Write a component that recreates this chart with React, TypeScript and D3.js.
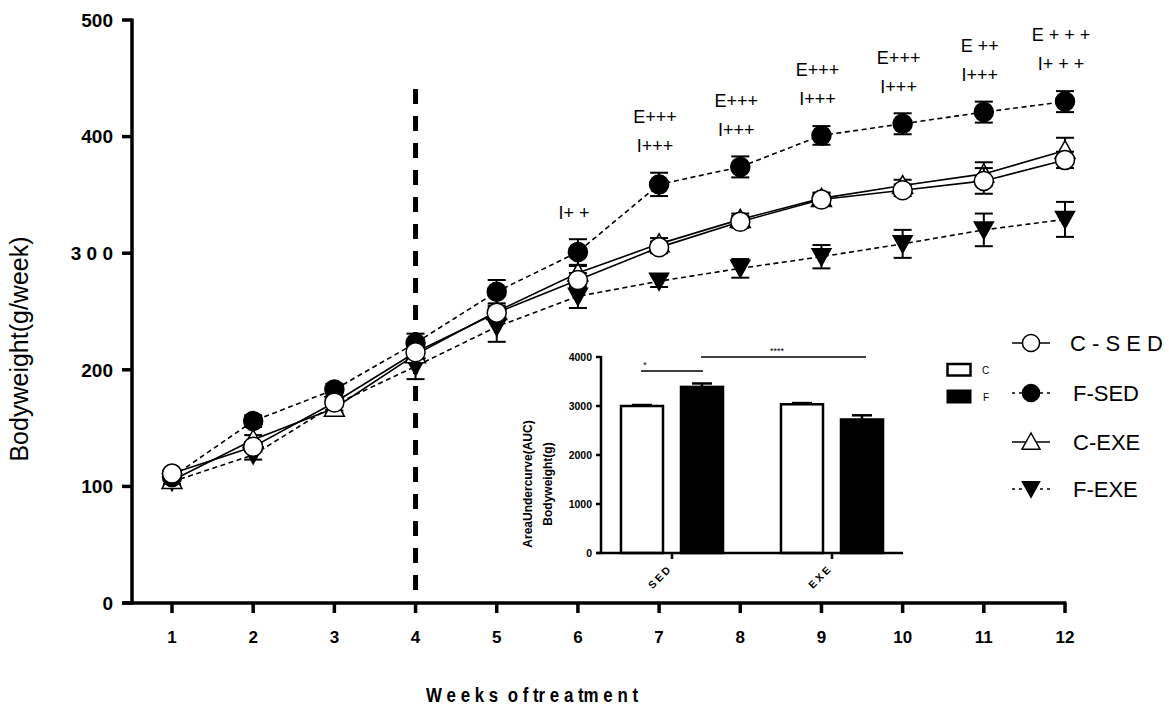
import React from "react";
import * as d3 from "d3";

const weeks = [1, 2, 3, 4, 5, 6, 7, 8, 9, 10, 11, 12];
const cSed = [111, 134, 172, 215, 249, 277, 305, 327, 346, 354, 362, 380];
const cSedErr = [3, 4, 4, 5, 5, 6, 5, 5, 5, 5, 11, 7];
const cExe = [105, 140, 167, 213, 250, 283, 308, 329, 347, 358, 368, 388];
const cExeErr = [3, 4, 4, 5, 5, 6, 5, 5, 5, 5, 10, 11];
const fSed = [108, 156, 183, 223, 267, 301, 359, 374, 401, 411, 421, 430];
const fSedErr = [3, 5, 5, 8, 10, 11, 10, 9, 8, 9, 9, 9];
const fExe = [104, 127, 170, 203, 237, 263, 276, 287, 297, 308, 320, 329];
const fExeErr = [3, 4, 5, 11, 13, 10, 5, 8, 10, 12, 14, 15];

const yTicks = [0, 100, 200, 300, 400, 500];
const yTickLabels = ["0", "100", "200", "3 0 0", "400", "500"];

const annoWeeks = [6, 7, 8, 9, 10, 11, 12];
const annoE = ["", "E+++", "E+++", "E+++", "E+++", "E ++", "E + + +"];
const annoI = ["I+ +", "I+++", "I+++", "I+++", "I+++", "I+++", "I+ + +"];

const aucGroups = ["SED", "EXE"];
const aucDiets = ["C", "F"];
const aucValues = [
  [3000, 3390],
  [3035, 2725],
];
const aucErr = [
  [20, 70],
  [25, 85],
];
const aucTicks = [0, 1000, 2000, 3000, 4000];

const FONT = "'Liberation Sans', Arial, sans-serif";

const x = d3.scaleLinear().domain([1, 12]).range([172, 1065]);
const y = d3.scaleLinear().domain([0, 500]).range([603, 20]);

const xi = d3.scaleBand().domain(aucGroups).range([592, 912]);
const xd = d3
  .scaleBand()
  .domain(aucDiets)
  .range([0, 160])
  .paddingInner(0.3)
  .paddingOuter(0.483);
const yi = d3.scaleLinear().domain([0, 4000]).range([553, 357]);

type Kind = "openCircle" | "filledCircle" | "upTri" | "downTri";

function Marker({ kind, cx, cy, s = 1 }: { kind: Kind; cx: number; cy: number; s?: number }) {
  if (kind === "openCircle")
    return <circle cx={cx} cy={cy} r={9.5 * s} fill="#fff" stroke="#000" strokeWidth={1.5} />;
  if (kind === "filledCircle")
    return <circle cx={cx} cy={cy} r={9.5 * s} fill="#000" stroke="#000" strokeWidth={1.5} />;
  if (kind === "upTri")
    return (
      <path
        d={`M${cx - 10 * s},${cy + 8 * s}L${cx + 10 * s},${cy + 8 * s}L${cx},${cy - 10 * s}Z`}
        fill="#fff"
        stroke="#000"
        strokeWidth={1.5}
      />
    );
  return (
    <path
      d={`M${cx - 9.5 * s},${cy - 8 * s}L${cx + 9.5 * s},${cy - 8 * s}L${cx},${cy + 9 * s}Z`}
      fill="#000"
      stroke="#000"
      strokeWidth={1.5}
    />
  );
}

const series = [
  { name: "F-EXE", vals: fExe, err: fExeErr, kind: "downTri" as Kind, dash: "5,3.5" },
  { name: "C-EXE", vals: cExe, err: cExeErr, kind: "upTri" as Kind, dash: "" },
  { name: "F-SED", vals: fSed, err: fSedErr, kind: "filledCircle" as Kind, dash: "5,3.5" },
  { name: "C-SED", vals: cSed, err: cSedErr, kind: "openCircle" as Kind, dash: "" },
];

const legendItems = [
  { label: "C - S E D", kind: "openCircle" as Kind, dash: "", ly: 343, lx: 1070 },
  { label: "F-SED", kind: "filledCircle" as Kind, dash: "3,4", ly: 393, lx: 1073 },
  { label: "C-EXE", kind: "upTri" as Kind, dash: "", ly: 442, lx: 1073 },
  { label: "F-EXE", kind: "downTri" as Kind, dash: "3,4", ly: 489, lx: 1073 },
];

export default function App() {
  const line = d3
    .line<number>()
    .x((_, i) => x(weeks[i]))
    .y((d) => y(d));

  return (
    <svg
      width={1169}
      height={707}
      style={{ position: "absolute", left: 0, top: 0, background: "#fff" }}
      fontFamily={FONT}
    >
      <rect width={1169} height={707} fill="#fff" />

      {/* Y axis */}
      <line x1={132} x2={132} y1={y(500) - 1.5} y2={y(0) + 1.5} stroke="#000" strokeWidth={3.5} />
      {yTicks.map((t, i) => (
        <g key={t}>
          <line x1={122} x2={132} y1={y(t)} y2={y(t)} stroke="#000" strokeWidth={3.5} />
          <text
            x={113}
            y={y(t)}
            dy="0.36em"
            textAnchor="end"
            fontSize={19}
            fontWeight="bold"
          >
            {yTickLabels[i]}
          </text>
        </g>
      ))}
      <text
        transform={`translate(28,${349}) rotate(-90)`}
        textAnchor="middle"
        fontSize={25}
      >
        Bodyweight(g/week)
      </text>

      {/* X axis */}
      <line x1={122} x2={1066.5} y1={y(0)} y2={y(0)} stroke="#000" strokeWidth={3.5} />
      {weeks.map((w) => (
        <g key={w}>
          <line x1={x(w)} x2={x(w)} y1={y(0)} y2={y(0) + 10} stroke="#000" strokeWidth={3.5} />
          <text x={x(w)} y={643} textAnchor="middle" fontSize={17} fontWeight="bold">
            {w}
          </text>
        </g>
      ))}
      <text
        x={532}
        y={702}
        textAnchor="middle"
        fontSize={20}
        fontWeight="bold"
        textLength={212}
        lengthAdjust="spacingAndGlyphs"
        style={{ whiteSpace: "pre" }}
      >
        {"W e e k s  o f tr e a tm e n t"}
      </text>

      {/* vertical dashed line at week 4 */}
      <line
        x1={x(4)}
        x2={x(4)}
        y1={89}
        y2={y(0)}
        stroke="#000"
        strokeWidth={5}
        strokeDasharray="15,12"
      />

      {/* series lines */}
      {series.map((s) => (
        <path
          key={s.name + "l"}
          d={line(s.vals) || ""}
          fill="none"
          stroke="#000"
          strokeWidth={1.6}
          strokeDasharray={s.dash || undefined}
        />
      ))}

      {/* error bars + markers */}
      {series.map((s) => (
        <g key={s.name + "m"}>
          {s.vals.map((v, i) => {
            const cx = x(weeks[i]);
            const hi = y(v + s.err[i]);
            const lo = y(v - s.err[i]);
            return (
              <g key={i}>
                <line x1={cx} x2={cx} y1={hi} y2={lo} stroke="#000" strokeWidth={2} />
                <line x1={cx - 9} x2={cx + 9} y1={hi} y2={hi} stroke="#000" strokeWidth={2} />
                <line x1={cx - 9} x2={cx + 9} y1={lo} y2={lo} stroke="#000" strokeWidth={2} />
              </g>
            );
          })}
          {s.vals.map((v, i) => (
            <Marker key={i} kind={s.kind} cx={x(weeks[i])} cy={y(v)} />
          ))}
        </g>
      ))}

      {/* annotations */}
      {annoWeeks.map((w, k) => {
        const i = weeks.indexOf(w);
        const top = y(fSed[i] + fSedErr[i]);
        return (
          <g key={w} fontSize={18} style={{ whiteSpace: "pre" }}>
            <text x={x(w) - 4} y={top - 27} dy="0.35em" textAnchor="middle">
              {annoI[k]}
            </text>
            {annoE[k] && (
              <text x={x(w) - 4} y={top - 56} dy="0.35em" textAnchor="middle">
                {annoE[k]}
              </text>
            )}
          </g>
        );
      })}

      {/* Inset bar chart */}
      <g>
        {aucGroups.map((g, gi) =>
          aucDiets.map((dk, di) => {
            const bx = (xi(g) as number) + (xd(dk) as number);
            const bw = xd.bandwidth();
            const v = aucValues[gi][di];
            const e = aucErr[gi][di];
            const cx = bx + bw / 2;
            return (
              <g key={g + dk}>
                <line x1={cx} x2={cx} y1={yi(v)} y2={yi(v + e)} stroke="#000" strokeWidth={2.5} />
                <line
                  x1={cx - 10}
                  x2={cx + 10}
                  y1={yi(v + e)}
                  y2={yi(v + e)}
                  stroke="#000"
                  strokeWidth={2.5}
                />
                <rect
                  x={bx}
                  y={yi(v)}
                  width={bw}
                  height={yi(0) - yi(v)}
                  fill={dk === "C" ? "#fff" : "#000"}
                  stroke="#000"
                  strokeWidth={2.5}
                />
              </g>
            );
          })
        )}
        <line x1={601} x2={601} y1={yi(4000) - 1} y2={yi(0)} stroke="#000" strokeWidth={2.5} />
        {aucTicks.map((t) => (
          <g key={t}>
            <line x1={596} x2={601} y1={yi(t)} y2={yi(t)} stroke="#000" strokeWidth={2.5} />
            <text
              x={592}
              y={yi(t)}
              dy="0.35em"
              textAnchor="end"
              fontSize={10.5}
              fontWeight="bold"
            >
              {t}
            </text>
          </g>
        ))}
        <line x1={597} x2={903} y1={yi(0)} y2={yi(0)} stroke="#000" strokeWidth={2.5} />
        {aucGroups.map((g) => {
          const cx = (xi(g) as number) + xi.bandwidth() / 2;
          return (
            <g key={g}>
              <line x1={cx} x2={cx} y1={yi(0)} y2={yi(0) + 6} stroke="#000" strokeWidth={2.5} />
              <text
                transform={`translate(${cx + 1},${yi(0) + 16}) rotate(-45)`}
                textAnchor="end"
                fontSize={10.5}
                fontWeight="bold"
                letterSpacing={2.5}
              >
                {g}
              </text>
            </g>
          );
        })}
        <text
          transform={`translate(532,484) rotate(-90)`}
          textAnchor="middle"
          fontSize={12}
          fontWeight="bold"
        >
          AreaUndercurve(AUC)
        </text>
        <text
          transform={`translate(552,484) rotate(-90)`}
          textAnchor="middle"
          fontSize={12}
          fontWeight="bold"
        >
          Bodyweight(g)
        </text>

        {/* significance */}
        <line x1={641} x2={703} y1={371} y2={371} stroke="#000" strokeWidth={1.5} />
        <text x={645} y={368} textAnchor="middle" fontSize={9}>
          *
        </text>
        <line x1={701} x2={866} y1={357} y2={357} stroke="#000" strokeWidth={1.5} />
        <text x={777} y={354} textAnchor="middle" fontSize={9}>
          ****
        </text>

        {/* inset legend */}
        <rect x={947.5} y={364} width={23} height={11.5} fill="#fff" stroke="#000" strokeWidth={2.5} />
        <text x={982} y={370} dy="0.35em" fontSize={10}>
          C
        </text>
        <rect x={946.5} y={389.5} width={25} height={14} fill="#000" />
        <text x={983} y={397} dy="0.35em" fontSize={10}>
          F
        </text>
      </g>

      {/* main legend */}
      {legendItems.map((it) => (
        <g key={it.label}>
          <line
            x1={1012}
            x2={1050}
            y1={it.ly}
            y2={it.ly}
            stroke="#000"
            strokeWidth={1.5}
            strokeDasharray={it.dash || undefined}
          />
          <Marker kind={it.kind} cx={1031} cy={it.ly} s={0.9} />
          <text x={it.lx} y={it.ly} dy="0.36em" fontSize={22} style={{ whiteSpace: "pre" }}>
            {it.label}
          </text>
        </g>
      ))}
    </svg>
  );
}
